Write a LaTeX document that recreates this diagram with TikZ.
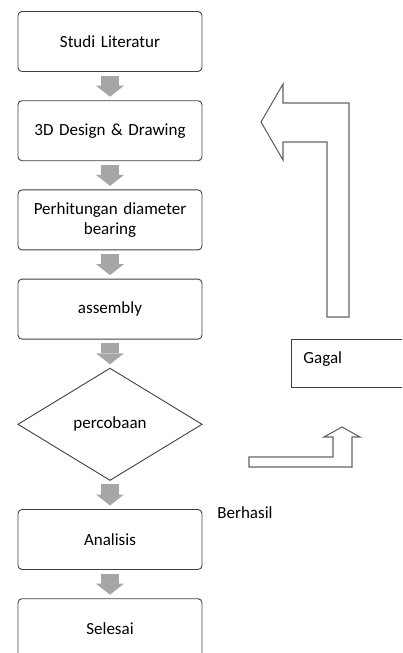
\documentclass[tikz,border=0pt]{standalone}
\usepackage{fontspec}
\setmainfont{Carlito}
\usepackage{tikz}
\usetikzlibrary{shapes.geometric, arrows.meta, positioning}
\definecolor{boxLine}{RGB}{64, 64, 64}
\definecolor{flowGray}{RGB}{166, 166, 166}
\definecolor{hollowLine}{RGB}{100, 100, 100}
\tikzset{
  stepnode/.style={
    rectangle, rounded corners=4pt,
    draw=boxLine, line width=0.9pt, outer sep=0pt,
    minimum width=184pt, minimum height=60pt,
    text width=176pt, align=center,
    font=\fontsize{17}{19.5}\selectfont
  },
  decision/.style={
    diamond, aspect=1.64,
    draw=boxLine, line width=0.9pt, outer sep=0pt,
    minimum width=184pt, minimum height=112pt,
    align=center, font=\fontsize{17}{19.5}\selectfont
  },
  flowarrow/.style={
    -{Triangle[width=28pt,length=11pt,line width=0pt]},
    line width=18pt, color=flowGray,
    shorten <=4pt, shorten >=4pt
  },
  hollowarrow/.style={
    draw=hollowLine, line width=1.1pt, line join=miter
  },
  notebox/.style={
    rectangle, draw=boxLine, line width=0.9pt,
    anchor=north west, minimum height=48pt,
    text width=110pt, inner xsep=12pt, text depth=11pt,
    align=left, font=\fontsize{17}{19.5}\selectfont
  }
}

\begin{document}
\begin{tikzpicture}[x=1pt, y=-1pt, node distance=29.2pt]
  \useasboundingbox (0,0) rectangle (402,653);
  \clip (0,0) rectangle (402,653);

  \node[stepnode] (studi) at (110,41.5) {Studi Literatur};
  \node[stepnode, below=of studi] (design) {3D Design \& Drawing};
  \node[stepnode, below=of design] (hitung) {Perhitungan diameter\\bearing};
  \node[stepnode, below=of hitung] (assembly) {assembly};
  \node[decision, below=of assembly] (coba) {percobaan};
  \node[stepnode, below=of coba] (analisis) {Analisis};
  \node[stepnode, below=of analisis] (selesai) {Selesai};

  \draw[flowarrow] (studi)    -- (design);
  \draw[flowarrow] (design)   -- (hitung);
  \draw[flowarrow] (hitung)   -- (assembly);
  \draw[flowarrow] (assembly) -- (coba);
  \draw[flowarrow] (coba)     -- (analisis);
  \draw[flowarrow] (analisis) -- (selesai);

  \node[notebox] (gagal) at (291,339) {Gagal};
  \node[font=\fontsize{17}{19.5}\selectfont] (berhasil) at (245,513) {Berhasil};

  % return arrow (up and back to the design step)
  \draw[hollowarrow] (349,317) -- (349,103) -- (283,103) -- (283,84)
    -- (261,122) -- (283,160) -- (283,142) -- (327,142) -- (327,317) -- cycle;
  % small turn arrow
  \draw[hollowarrow] (249,457) -- (333,457) -- (333,437) -- (324,437)
    -- (342,427) -- (360,437) -- (352,437) -- (352,467) -- (249,467) -- cycle;
\end{tikzpicture}
\end{document}
